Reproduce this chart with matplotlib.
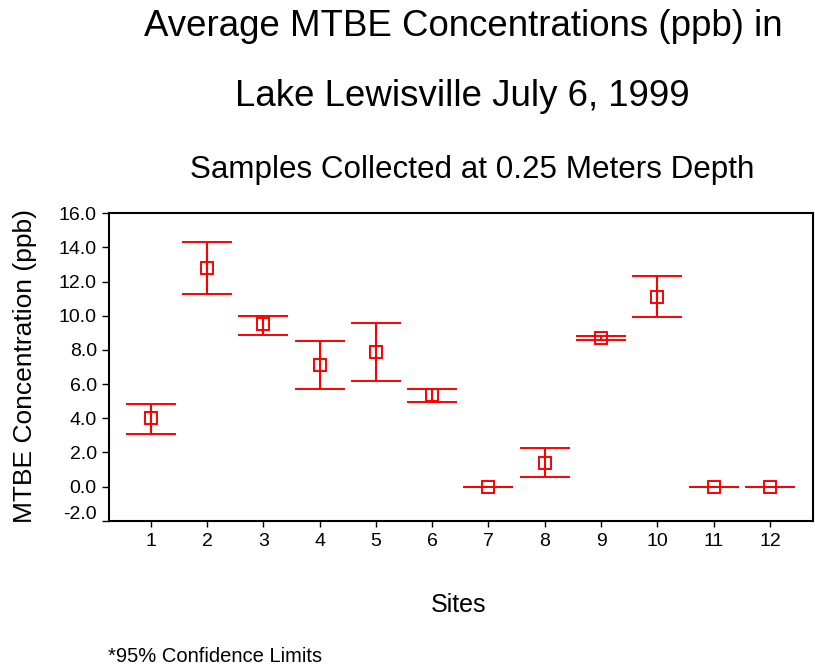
import matplotlib
matplotlib.use("Agg")
import matplotlib.pyplot as plt
import numpy as np
from matplotlib.transforms import ScaledTranslation

plt.rcParams['font.family'] = ['Liberation Sans', 'DejaVu Sans']

# Mean MTBE concentration (ppb) and 95% confidence limits per site
sites = [1, 2, 3, 4, 5, 6, 7, 8, 9, 10, 11, 12]
means = [4.0, 12.8, 9.5, 7.1, 7.85, 5.35, 0.0, 1.4, 8.7, 11.1, 0.0, 0.0]
lower = [3.1, 11.3, 8.9, 5.7, 6.2, 4.95, 0.0, 0.55, 8.57, 9.9, 0.0, 0.0]
upper = [4.85, 14.3, 10.0, 8.55, 9.55, 5.7, 0.0, 2.25, 8.81, 12.35, 0.0, 0.0]
y_ticks = [-2.0, 0.0, 2.0, 4.0, 6.0, 8.0, 10.0, 12.0, 14.0, 16.0]

fig = plt.figure(figsize=(8.15, 6.69), dpi=100)
ax = fig.add_axes([0.1341, 0.2217, 0.8638, 0.4595])

m = np.array(means)
yerr = np.vstack([m - np.array(lower), np.array(upper) - m])
ax.errorbar(sites, means, yerr=yerr, fmt='s', color='#ff0000',
            mfc='none', mec='#ff0000', ms=8, mew=1.4,
            elinewidth=1.5, capsize=18.2, capthick=1.5, ecolor='#ff0000')

ax.set_xlim(0.265, 12.77)
ax.set_ylim(-2, 16)
ax.set_xticks(sites)
ax.set_xticklabels([str(s) for s in sites])
ax.set_yticks(y_ticks)
ax.set_yticklabels([f"{v:.1f}" for v in y_ticks])

for sp in ax.spines.values():
    sp.set_linewidth(1.5)
    sp.set_color('black')
ax.tick_params(axis='y', direction='out', length=5, width=1, labelsize=14, pad=4)
ax.tick_params(axis='x', direction='out', length=4, width=1, labelsize=14, pad=5)

# lift the lowest y label a little above its tick
lbl = ax.get_yticklabels()[0]
lbl.set_transform(lbl.get_transform() + ScaledTranslation(0, 6 / 72, fig.dpi_scale_trans))

fig.text(25 / 815, 1 - 366 / 669, "MTBE Concentration (ppb)", fontsize=19,
         rotation=90, ha='center', va='center')
fig.text(459 / 815, 1 - 605 / 669, "Sites", fontsize=18, ha='center', va='center')

fig.text(463 / 815, 1 - 27 / 669, "Average MTBE Concentrations (ppb) in",
         fontsize=26.4, ha='center', va='center')
fig.text(462 / 815, 1 - 97 / 669, "Lake Lewisville July 6, 1999",
         fontsize=26.4, ha='center', va='center')
fig.text(472 / 815, 1 - 170 / 669, "Samples Collected at 0.25 Meters Depth",
         fontsize=22.6, ha='center', va='center')
fig.text(108 / 815, 1 - 657 / 669, "*95% Confidence Limits",
         fontsize=14.5, ha='left', va='center')

fig.savefig("out.png", dpi=100)
